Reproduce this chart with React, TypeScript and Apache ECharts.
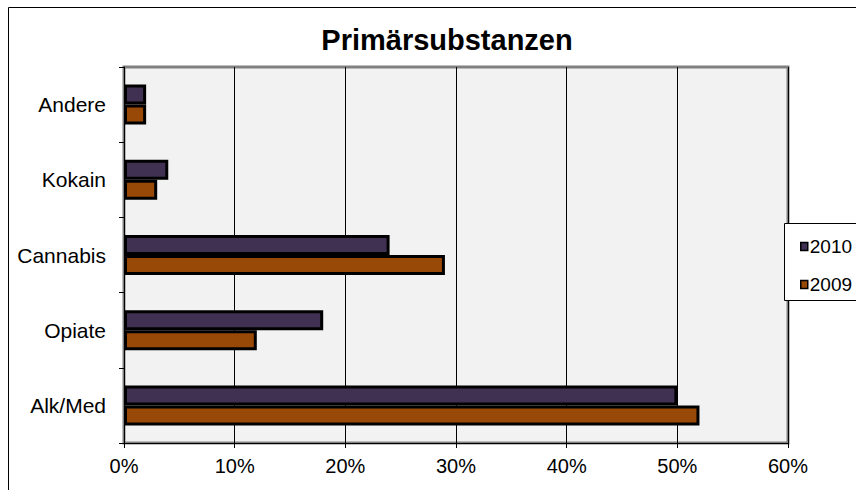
import React, { useEffect, useRef } from "react";
import * as echarts from "echarts";

const categories = ["Alk/Med", "Opiate", "Cannabis", "Kokain", "Andere"];
const values2009 = [52, 12, 29, 3, 2];
const values2010 = [50, 18, 24, 4, 2];
const xTicks = [0, 10, 20, 30, 40, 50, 60];

const FONT = "'Liberation Sans', Arial, sans-serif";

export default function App() {
  const ref = useRef<HTMLDivElement>(null);
  useEffect(() => {
    if (!ref.current) return;
    const chart = echarts.init(ref.current, null, { renderer: "svg" });
    chart.setOption({
      animation: false,
      backgroundColor: "#ffffff",
      title: {
        text: "Primärsubstanzen",
        left: 442,
        textAlign: "center",
        top: 20,
        textStyle: { fontFamily: FONT, fontSize: 29, fontWeight: "bold", color: "#000" },
      },
      graphic: [
        {
          type: "rect",
          shape: { x: 8.5, y: 7.5, width: 900, height: 600 },
          style: { fill: "none", stroke: "#000", lineWidth: 1 },
          z: 0,
        },
        {
          type: "rect",
          shape: { x: 784.5, y: 223.5, width: 100, height: 77 },
          style: { fill: "#fff", stroke: "#000", lineWidth: 1 },
          z: 5,
        },
      ],
      legend: {
        orient: "vertical",
        left: 795,
        top: 232,
        itemGap: 19,
        itemWidth: 7,
        itemHeight: 8,
        icon: "rect",
        z: 10,
        data: [
          { name: "2010", itemStyle: { borderColor: "#000", borderWidth: 1.5 } },
          { name: "2009", itemStyle: { borderColor: "#000", borderWidth: 1.5 } },
        ],
        textStyle: { fontFamily: FONT, fontSize: 19, color: "#000", padding: [0, 0, 0, -3] },
      },
      grid: {
        left: 124,
        right: 68,
        top: 67,
        bottom: 47,
        show: true,
        backgroundColor: "#F2F2F2",
        borderColor: "#808080",
        borderWidth: 3,
      },
      xAxis: {
        type: "value",
        min: xTicks[0],
        max: xTicks[xTicks.length - 1],
        interval: 10,
        axisLine: { show: true, lineStyle: { color: "#000", width: 1 } },
        axisTick: { show: true, length: 5, lineStyle: { color: "#000" } },
        splitLine: { show: true, lineStyle: { color: "#000", width: 1 } },
        axisLabel: {
          formatter: "{value}%",
          fontFamily: FONT,
          fontSize: 20,
          color: "#000",
          margin: 13,
        },
      },
      yAxis: {
        type: "category",
        data: categories,
        axisLine: { show: true, lineStyle: { color: "#000", width: 1 } },
        axisTick: { show: true, length: 5, lineStyle: { color: "#000" } },
        splitLine: { show: false },
        axisLabel: { fontFamily: FONT, fontSize: 21, color: "#000", margin: 18 },
      },
      series: [
        {
          name: "2010",
          type: "bar",
          data: values2010,
          barWidth: 20,
          barGap: "0%",
          itemStyle: { color: "#403152", borderColor: "#000", borderWidth: 3 },
        },
        {
          name: "2009",
          type: "bar",
          data: values2009,
          barWidth: 20,
          barGap: "0%",
          itemStyle: { color: "#984807", borderColor: "#000", borderWidth: 3 },
        },
      ],
    });
    return () => chart.dispose();
  }, []);
  return (
    <div
      ref={ref}
      style={{ position: "fixed", left: 0, top: 0, width: 856, height: 490 }}
    />
  );
}
